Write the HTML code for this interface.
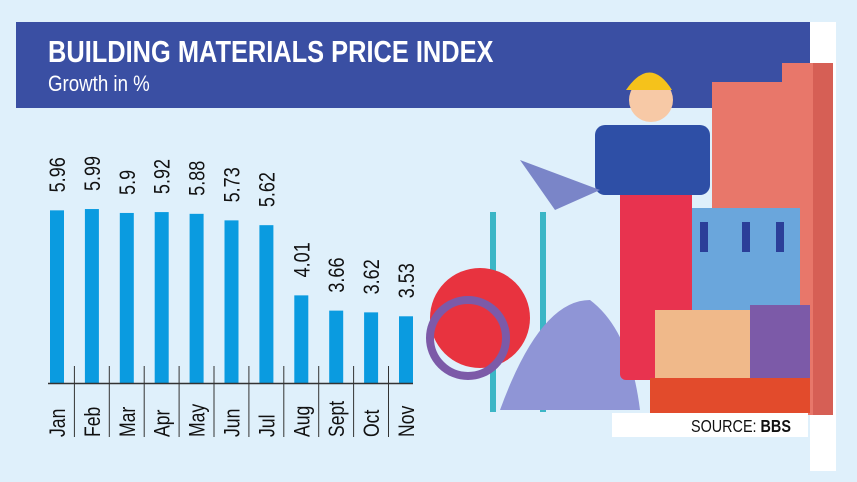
<!DOCTYPE html>
<html><head><meta charset="utf-8"><style>
body{margin:0;width:857px;height:482px;overflow:hidden;background:#dff0fb;font-family:"Liberation Sans",sans-serif;}
svg{display:block}
</style></head><body>
<svg width="857" height="482" viewBox="0 0 857 482">
<rect x="0" y="0" width="857" height="482" fill="#dff0fb"/>
<rect x="810" y="22" width="26" height="449" fill="#ffffff"/>
<rect x="16" y="22" width="794" height="86" fill="#3a4fa3"/>
<text transform="translate(48,62) scale(0.82,1)" font-size="31" font-weight="bold" fill="#fff">BUILDING MATERIALS PRICE INDEX</text>
<text transform="translate(48,91) scale(0.85,1)" font-size="22" fill="#fff">Growth in %</text>
<g>
<rect x="712" y="82" width="100" height="333" fill="#e8776a"/>
<rect x="782" y="63" width="50" height="352" fill="#e8776a"/>
<rect x="813" y="63" width="20" height="352" fill="#d65f55"/>
<rect x="690" y="208" width="110" height="102" fill="#6aa6dc"/>
<rect x="700" y="222" width="8" height="30" fill="#2b3f99"/><rect x="742" y="222" width="8" height="30" fill="#2b3f99"/><rect x="776" y="222" width="8" height="30" fill="#2b3f99"/>
<rect x="490" y="212" width="6" height="200" fill="#3bb6c6"/><rect x="540" y="212" width="6" height="200" fill="#3bb6c6"/>
<circle cx="480" cy="318" r="50" fill="#e8333f"/>
<circle cx="468" cy="338" r="38" fill="none" stroke="#7c5aa8" stroke-width="8"/>
<path d="M500 410 Q540 300 590 300 Q630 330 640 410 Z" fill="#8f95d6"/>
<rect x="620" y="125" width="72" height="255" fill="#e8334f" rx="6"/>
<rect x="595" y="125" width="115" height="70" fill="#2e4fa6" rx="10"/>
<circle cx="651" cy="100" r="22" fill="#f7c9a6"/>
<path d="M626 90 Q650 55 672 90 Z" fill="#f5c21b"/>
<rect x="655" y="310" width="100" height="90" fill="#f0b98a"/>
<rect x="750" y="305" width="60" height="85" fill="#7c5aa8"/>
<rect x="650" y="378" width="160" height="35" fill="#e24b2c"/>
<path d="M520 160 L600 190 L555 210 Z" fill="#7a85c8"/>
</g>
<rect x="612" y="413" width="196" height="24" fill="#ffffff"/>
<text transform="translate(691,432) scale(0.8,1)" font-size="18" fill="#111">SOURCE: <tspan font-weight="bold">BBS</tspan></text>
<g id="plot"></g>
</svg>
<script>
const categories=["Jan","Feb","Mar","Apr","May","Jun","Jul","Aug","Sept","Oct","Nov"];
const values=[5.96,5.99,5.9,5.92,5.88,5.73,5.62,4.01,3.66,3.62,3.53];
const valueLabels=["5.96","5.99","5.9","5.92","5.88","5.73","5.62","4.01","3.66","3.62","3.53"];
const yMin=2, yMax=6;
const NS="http://www.w3.org/2000/svg";
const g=document.getElementById('plot');
const baseY=383, pxPerUnit=43.6, x0=50, step=34.9, bw=14;
function yScale(v){return baseY-(v-yMin)*pxPerUnit;}
function xScale(i){return x0+i*step;}
function mk(tag,attrs){const e=document.createElementNS(NS,tag);for(const k in attrs)e.setAttribute(k,attrs[k]);g.appendChild(e);return e;}
categories.forEach((c,i)=>{
  const x=xScale(i), y=yScale(values[i]);
  const r=mk('rect',{x:x,y:y,width:bw,height:baseY-y,fill:'#0a9be0'});
  
  
  const cx=x+bw/2;
  const t=mk('text',{x:0,y:0,'font-size':22,fill:'#111',transform:`translate(${cx+8},${y-18}) rotate(-90) scale(0.82,1)`});
  t.textContent=valueLabels[i];
  
  
  const m=mk('text',{x:0,y:0,'font-size':22,fill:'#111',transform:`translate(${cx+8},${437}) rotate(-90) scale(0.8,1)`});
  m.textContent=c;
  
  
  if(i>0){
    const d=mk('line',{x1:x-10.5,x2:x-10.5,y1:366,y2:437,stroke:'#333','stroke-width':1});
    
    
  }
});
const ax=mk('line',{x1:48,x2:xScale(categories.length-1)+bw,y1:baseY+0.5,y2:baseY+0.5,stroke:'#333','stroke-width':1.5});


</script>
</body></html>
